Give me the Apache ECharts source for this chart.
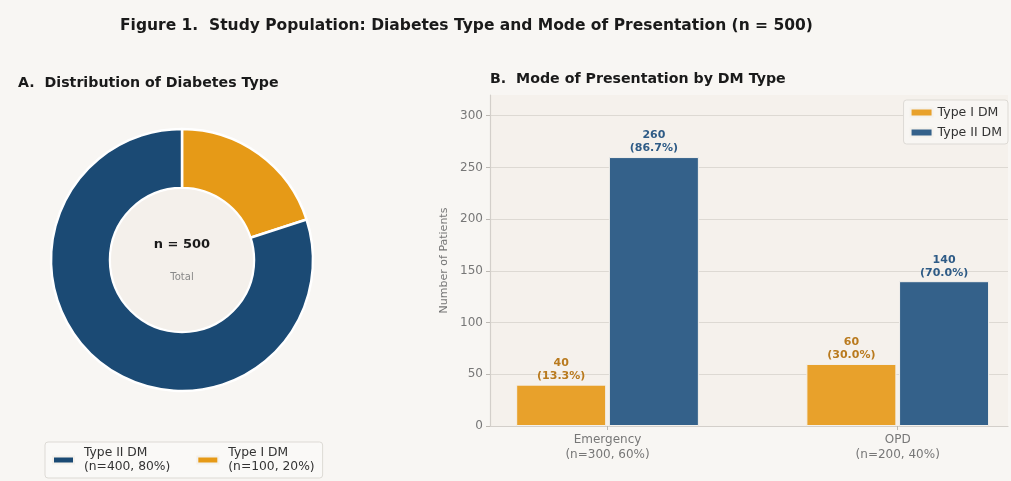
<!DOCTYPE html>
<html>
<head>
<meta charset="utf-8">
<script src="https://cdn.jsdelivr.net/npm/echarts@6/dist/echarts.min.js"></script>
<style>
  html, body { margin: 0; padding: 0; background: #ffffff; }
  #chart { width: 1011px; height: 481px; }
</style>
</head>
<body>
<div id="chart"></div>
<script>
// Panel A: diabetes type split
const dmTypes = ['Type I DM', 'Type II DM'];
const dmCounts = [100, 400];

// Panel B: mode of presentation by diabetes type
const modes = ['Emergency', 'OPD'];
const type1ByMode = [40, 60];
const type2ByMode = [260, 140];
const yTicks = [0, 50, 100, 150, 200, 250, 300];

const FONT = 'DejaVu Sans';
const C_T1 = '#E69A17';
const C_T2 = '#1B4A74';
const C_T1_BAR = '#E8A12B';
const C_T2_BAR = '#34618A';

const grand = dmCounts.reduce((a, b) => a + b, 0);
const modeTotals = modes.map((_, i) => type1ByMode[i] + type2ByMode[i]);
const pct = (v, t) => (100 * v / t).toFixed(1);

const pieLegendText = {};
dmTypes.forEach((n, i) => {
  pieLegendText[n] = n + '\n(n=' + dmCounts[i] + ', ' + Math.round(100 * dmCounts[i] / grand) + '%)';
});

const chart = echarts.init(document.getElementById('chart'), null, { renderer: 'canvas' });

const barLabel = (color, values) => ({
  show: true,
  position: 'top',
  distance: 2,
  color: color,
  fontFamily: FONT,
  fontWeight: 'bold',
  fontSize: 11,
  lineHeight: 13,
  formatter: p => values[p.dataIndex] + '\n(' + pct(values[p.dataIndex], modeTotals[p.dataIndex]) + '%)'
});

chart.setOption({
  backgroundColor: '#F8F6F3',
  textStyle: { fontFamily: FONT },
  title: [
    {
      text: 'Figure 1.  Study Population: Diabetes Type and Mode of Presentation (n = ' + grand + ')',
      left: 120, top: 18, padding: 0,
      textStyle: { fontFamily: FONT, fontWeight: 'bold', fontSize: 15.5, color: '#1a1a1a' }
    },
    {
      text: 'A.  Distribution of Diabetes Type',
      left: 18, top: 76, padding: 0,
      textStyle: { fontFamily: FONT, fontWeight: 'bold', fontSize: 14.2, color: '#1a1a1a' }
    },
    {
      text: 'B.  Mode of Presentation by DM Type',
      left: 490, top: 72, padding: 0,
      textStyle: { fontFamily: FONT, fontWeight: 'bold', fontSize: 14.2, color: '#1a1a1a' }
    }
  ],
  legend: [
    {
      data: [
        { name: 'Type II DM', itemStyle: { color: C_T2 } },
        { name: 'Type I DM', itemStyle: { color: C_T1 } }
      ],
      left: 45, top: 442, width: 275,
      orient: 'horizontal',
      itemWidth: 21, itemHeight: 7, itemGap: 26,
      padding: [4, 8, 4, 7],
      backgroundColor: '#FAF9F7',
      borderColor: '#DDDAD5', borderWidth: 1, borderRadius: 3,
      icon: 'rect',
      formatter: n => pieLegendText[n],
      textStyle: { fontFamily: FONT, fontSize: 12.3, color: '#333', lineHeight: 14, padding: [0, 0, 0, 5] }
    },
    {
      data: [
        { name: 'Type I DM', itemStyle: { color: C_T1_BAR } },
        { name: 'Type II DM', itemStyle: { color: C_T2_BAR } }
      ],
      right: 3, top: 100,
      orient: 'vertical',
      itemWidth: 22, itemHeight: 8, itemGap: 7,
      padding: [6, 6, 5, 6],
      backgroundColor: '#F8F6F3',
      borderColor: '#DDDAD5', borderWidth: 1, borderRadius: 3,
      icon: 'rect',
      textStyle: { fontFamily: FONT, fontSize: 12.5, color: '#333' }
    }
  ],
  grid: { left: 490, right: 3, top: 95, bottom: 55, show: true, backgroundColor: '#F5F1EC', borderWidth: 0 },
  xAxis: {
    type: 'value',
    min: -0.405, max: 1.38,
    splitLine: { show: false },
    axisLine: { show: true, lineStyle: { color: '#D3CFCA', width: 1.2 } },
    axisTick: { show: true, customValues: modes.map((_, i) => i), length: 4, lineStyle: { color: '#BDB9B4' } },
    axisLabel: {
      customValues: modes.map((_, i) => i),
      formatter: v => {
        const i = Math.round(v);
        return modes[i] + '\n(n=' + modeTotals[i] + ', ' + Math.round(100 * modeTotals[i] / grand) + '%)';
      },
      color: '#777', fontFamily: FONT, fontSize: 12, lineHeight: 15, margin: 6
    }
  },
  yAxis: {
    type: 'value',
    min: 0, max: 320, interval: 50,
    name: 'Number of Patients',
    nameLocation: 'middle', nameGap: 38,
    nameTextStyle: { color: '#777', fontFamily: FONT, fontSize: 11 },
    axisLine: { show: true, onZero: false, lineStyle: { color: '#D3CFCA', width: 1.2 } },
    axisTick: { show: true, customValues: yTicks, length: 4, lineStyle: { color: '#BDB9B4' } },
    axisLabel: {
      customValues: yTicks,
      color: '#777', fontFamily: FONT, fontSize: 12, margin: 7
    },
    splitLine: { show: true, lineStyle: { color: '#DDD9D3', width: 1 } }
  },
  series: [
    {
      type: 'pie',
      name: 'Diabetes type',
      center: [182, 260],
      radius: [72, 131],
      startAngle: 90,
      clockwise: true,
      silent: true,
      label: { show: false },
      labelLine: { show: false },
      itemStyle: { borderColor: '#FFFFFF', borderWidth: 2.5 },
      data: dmTypes.map((n, i) => ({
        name: n, value: dmCounts[i],
        itemStyle: { color: i === 0 ? C_T1 : C_T2 }
      }))
    },
    {
      type: 'pie',
      name: 'Total',
      center: [182, 260],
      radius: [0, 71],
      silent: true,
      labelLine: { show: false },
      itemStyle: { color: '#F4F0EB' },
      label: {
        show: true,
        position: 'center',
        formatter: '{n|n = ' + grand + '}\n{t|Total}',
        rich: {
          n: { fontFamily: FONT, fontWeight: 'bold', fontSize: 13, color: '#1a1a1a', lineHeight: 34 },
          t: { fontFamily: FONT, fontSize: 10, color: '#888', lineHeight: 30 }
        }
      },
      data: [{ name: 'Total', value: grand }]
    },
    {
      type: 'bar',
      name: 'Type I DM',
      barWidth: 90,
      barGap: '3%',
      itemStyle: { color: C_T1_BAR, borderColor: '#F4F1EC', borderWidth: 1 },
      label: barLabel('#B97A1E', type1ByMode),
      data: type1ByMode.map((v, i) => [i, v])
    },
    {
      type: 'bar',
      name: 'Type II DM',
      barWidth: 90,
      barGap: '3%',
      itemStyle: { color: C_T2_BAR, borderColor: '#F4F1EC', borderWidth: 1 },
      label: barLabel('#2E5B86', type2ByMode),
      data: type2ByMode.map((v, i) => [i, v])
    }
  ]
});
</script>
</body>
</html>
